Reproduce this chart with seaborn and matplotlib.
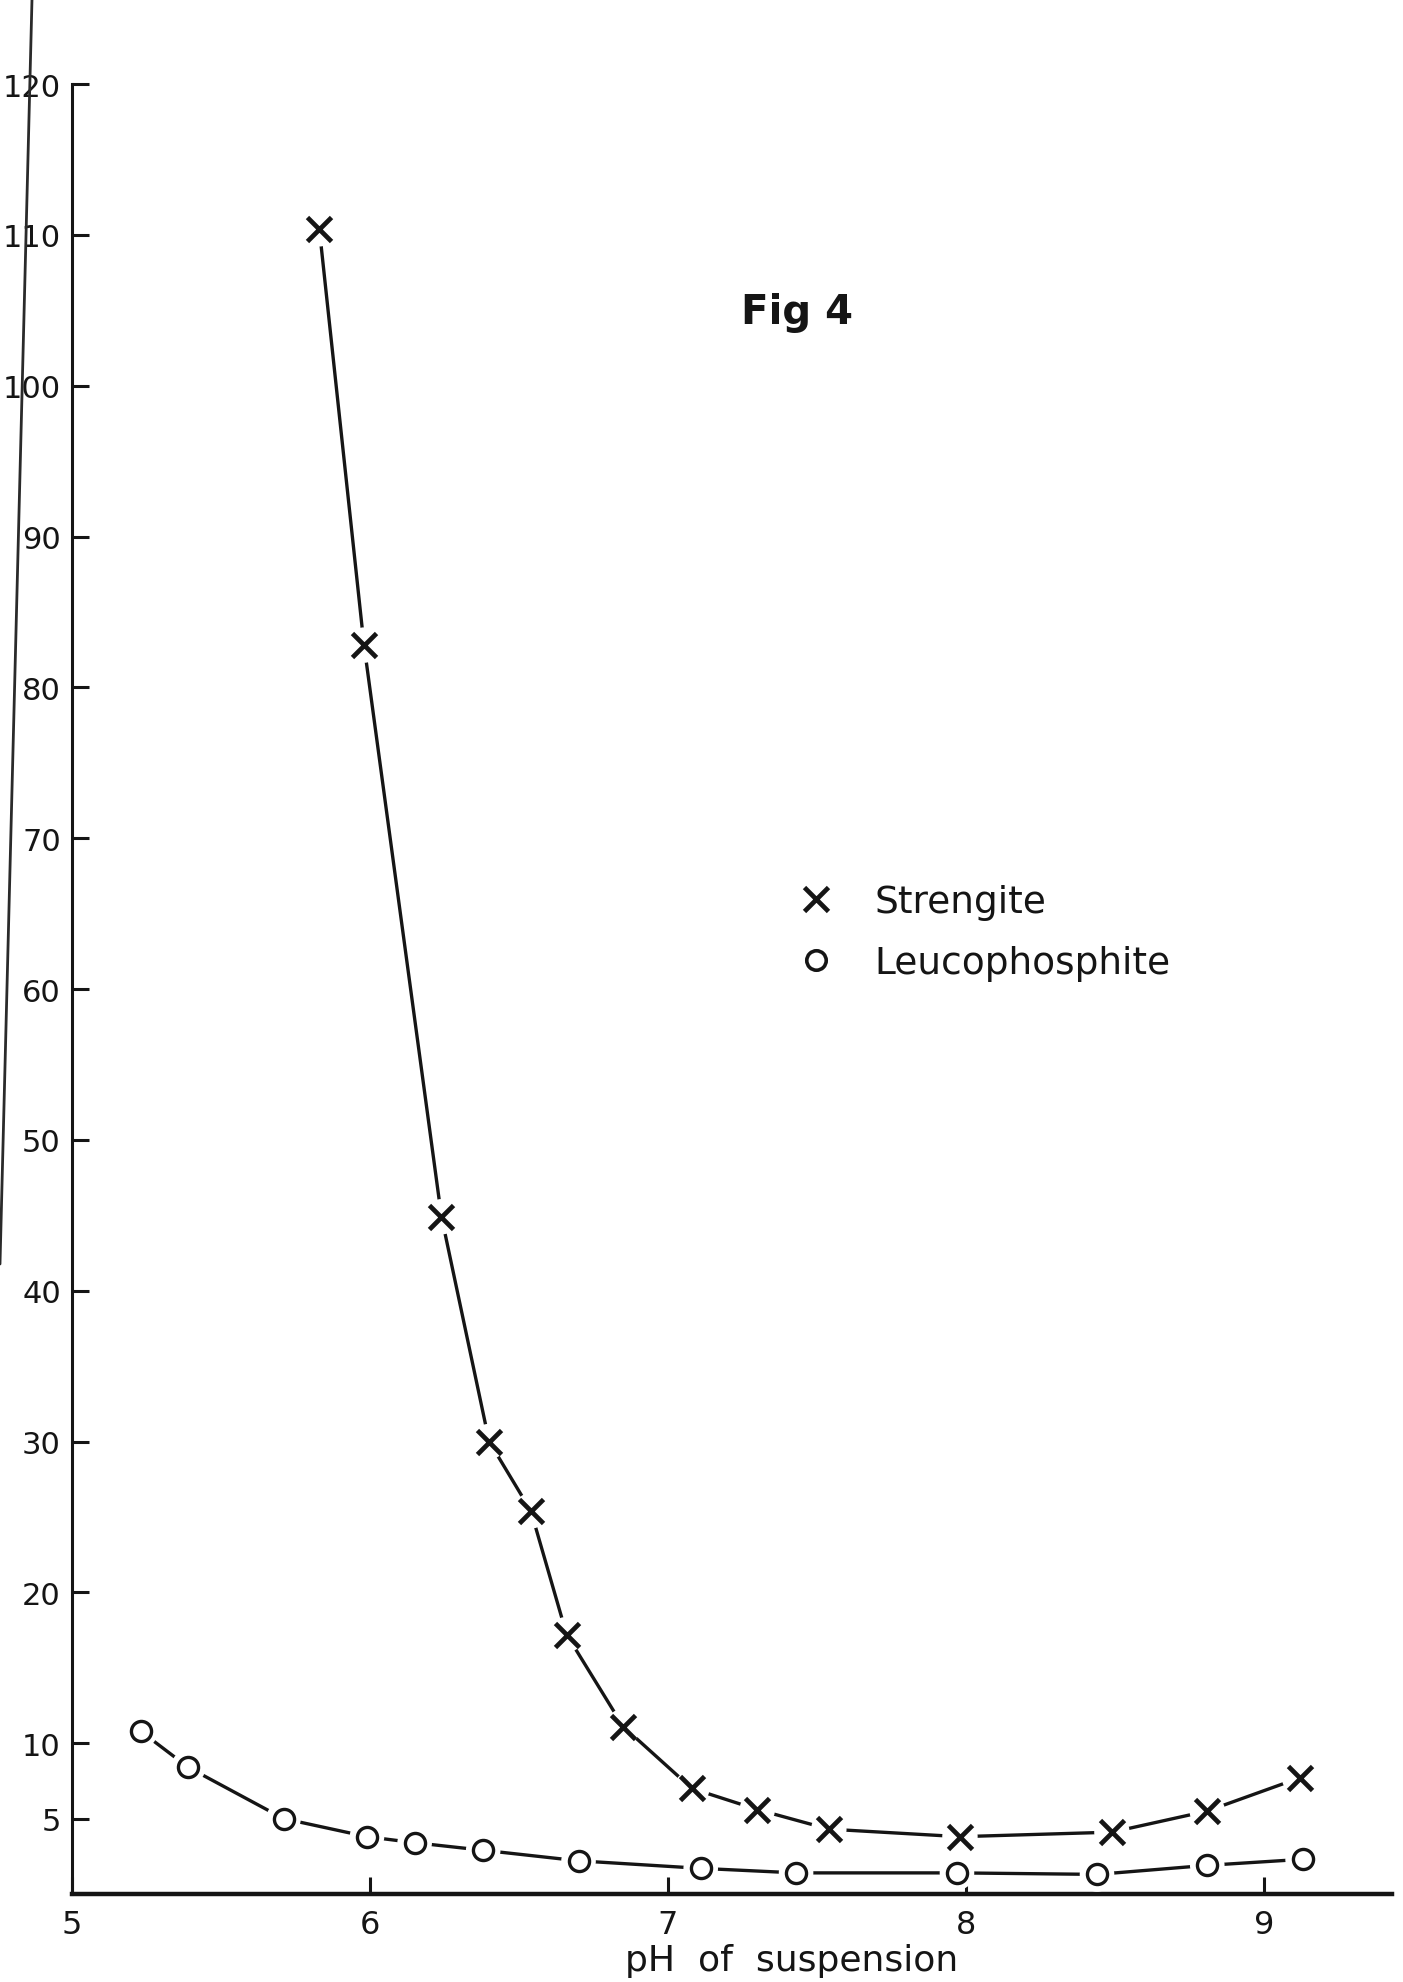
"""Fig 4: strengite and leucophosphite against pH of suspension."""
import seaborn as sns
import matplotlib.pyplot as plt
from matplotlib.lines import Line2D

# values
strengite_ph = [5.83, 5.98, 6.24, 6.40, 6.54, 6.66, 6.85, 7.08, 7.30, 7.54, 7.98, 8.49, 8.81, 9.12]
strengite_val = [110.4, 82.8, 44.9, 30.0, 25.4, 17.2, 11.1, 7.0, 5.6, 4.3, 3.8, 4.1, 5.5, 7.7]

leuco_ph = [5.23, 5.39, 5.71, 5.99, 6.15, 6.38, 6.70, 7.11, 7.43, 7.97, 8.44, 8.81, 9.13]
leuco_val = [10.8, 8.4, 5.0, 3.8, 3.4, 2.9, 2.2, 1.7, 1.4, 1.4, 1.3, 1.9, 2.3]

xticks = [5, 6, 7, 8, 9]
xticklabels = ['5', '6', '7', '8', '9']
yticks = [5, 10, 20, 30, 40, 50, 60, 70, 80, 90, 100, 110, 120]
yticklabels = ['5', '10', '20', '30', '40', '50', '60', '70', '80', '90', '100', '110', '120']

sns.set_style('ticks')
plt.rcParams['font.family'] = ['DejaVu Sans']

ink = '#151515'
fig = plt.figure(figsize=(14.03, 19.83), dpi=100)
ax = fig.add_axes([72 / 1403, 1 - 1895 / 1983, 1320 / 1403, 1810 / 1983])

# connecting curves
sns.lineplot(x=strengite_ph, y=strengite_val, ax=ax, color=ink, lw=2.4, zorder=2)
sns.lineplot(x=leuco_ph, y=leuco_val, ax=ax, color=ink, lw=2.4, zorder=2)

# white halo so the curves stop short of the marks, as in the drawing
sns.scatterplot(x=strengite_ph, y=strengite_val, ax=ax, marker='o', s=650,
                color='white', edgecolor='none', zorder=3)
sns.scatterplot(x=leuco_ph, y=leuco_val, ax=ax, marker='o', s=620,
                color='white', edgecolor='none', zorder=3)

sns.scatterplot(x=strengite_ph, y=strengite_val, ax=ax, marker='x', s=300,
                color=ink, linewidth=3.4, zorder=4)
sns.scatterplot(x=leuco_ph, y=leuco_val, ax=ax, marker='o', s=210,
                facecolor='white', edgecolor=ink, linewidth=2.4, zorder=4)

ax.set_xlim(5, 9.43)
ax.set_ylim(0, 120)
ax.set_xticks(xticks)
ax.set_xticklabels(xticklabels)
ax.set_yticks(yticks)
ax.set_yticklabels(yticklabels)
ax.tick_params(axis='both', direction='in', length=12, width=2.2, colors=ink)
ax.tick_params(axis='y', pad=8, labelsize=22)
ax.tick_params(axis='x', pad=11, labelsize=23)
sns.despine(ax=ax)
ax.spines['left'].set_linewidth(2.2)
ax.spines['bottom'].set_linewidth(3.2)
ax.spines['left'].set_color(ink)
ax.spines['bottom'].set_color(ink)

ax.set_xlabel('pH  of  suspension', fontsize=26, color=ink)
ax.xaxis.set_label_coords(0.545, -0.027)
ax.set_ylabel('')

ax.text(7.246, 104.9, 'Fig 4', fontsize=29, fontweight='bold', color=ink,
        ha='left', va='center')

handles = [
    Line2D([], [], ls='none', marker='x', ms=17, mew=3.4, color=ink),
    Line2D([], [], ls='none', marker='o', ms=14, mew=2.6, mec=ink, mfc='white'),
]
ax.legend(handles, ['Strengite', 'Leucophosphite'], frameon=False,
          loc='upper left', bbox_to_anchor=(0.568, 0.5535),
          bbox_transform=fig.transFigure, borderpad=0, borderaxespad=0,
          fontsize=27, handlelength=1.0, handletextpad=1.07, labelspacing=0.66,
          labelcolor=ink)

# edge of the scanned page running down the left side
fig.add_artist(Line2D([32 / 1403, 0], [1, 1 - 1265 / 1983], transform=fig.transFigure,
                      color='#2a2a2a', lw=2))

fig.savefig('out.png', dpi=100, facecolor='white')
